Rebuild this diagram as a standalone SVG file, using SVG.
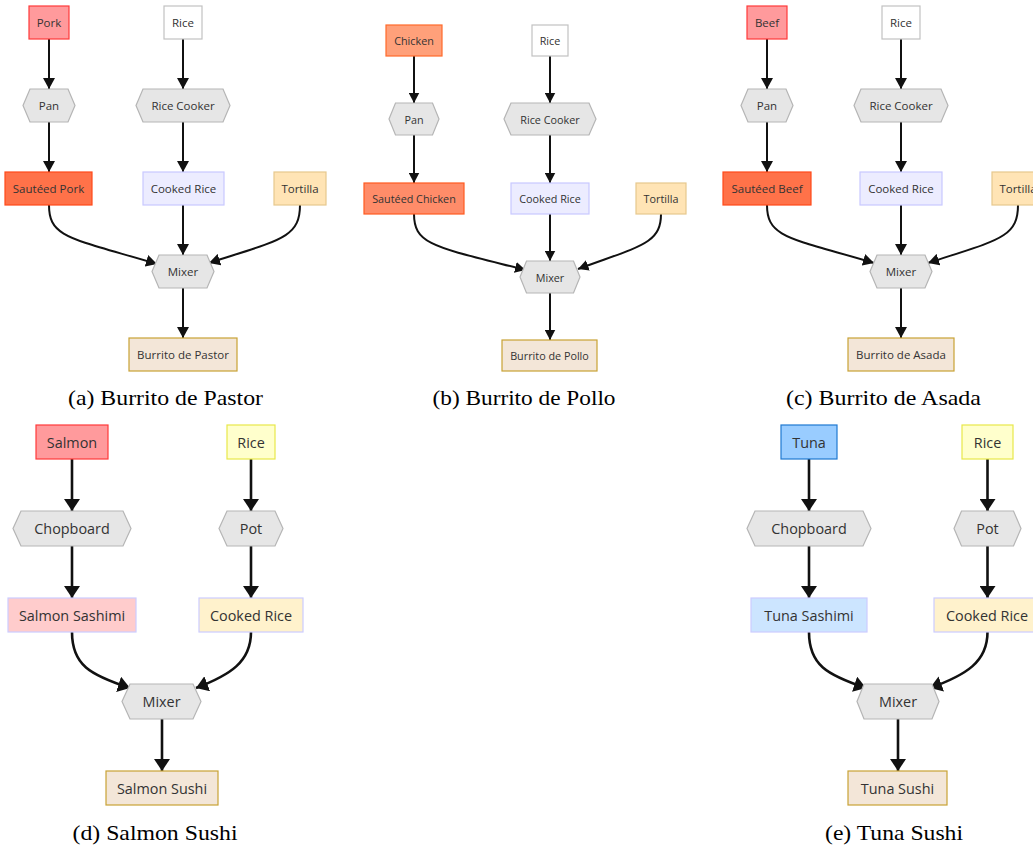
<svg xmlns="http://www.w3.org/2000/svg" width="1033" height="848" viewBox="0 0 1033 848">
<style>
text{font-family:"Open Sans","Noto Sans","DejaVu Sans",sans-serif;fill:#333;text-anchor:middle;dominant-baseline:central}
.sm text{font-size:11.5px}
.sb text{font-size:10.8px}
.lg text{font-size:14.4px}
text.cap{font-family:"Liberation Serif","Times New Roman",serif;font-size:21.5px;fill:#000;dominant-baseline:alphabetic}
.hex{fill:#e6e6e6;stroke:#b5b5b5;stroke-width:1.2}
.e{fill:none;stroke:#111;stroke-width:2}
.el{fill:none;stroke:#111;stroke-width:2.6}
.raw-red{fill:#ff9a9c;stroke:#ff3a3a;stroke-width:1.2}
.sauteed{fill:#ff7249;stroke:#ff4a1a;stroke-width:1.2}
.chicken{fill:#ffa07a;stroke:#ff6a2a;stroke-width:1.2}
.schicken{fill:#ff8c69;stroke:#ff5a20;stroke-width:1.2}
.white{fill:#fff;stroke:#c2c2c2;stroke-width:1.2}
.yellow{fill:#ffffcc;stroke:#e8e84a;stroke-width:1.2}
.crice{fill:#ececff;stroke:#c9c9ff;stroke-width:1.2}
.tort{fill:#ffe4b5;stroke:#e6c88e;stroke-width:1.2}
.final{fill:#f3e6d8;stroke:#c9a235;stroke-width:1.2}
.ssash{fill:#ffcccc;stroke:#ccccff;stroke-width:1.2}
.crice2{fill:#fff2cc;stroke:#ccccff;stroke-width:1.2}
.tuna{fill:#99ccff;stroke:#1f78d1;stroke-width:1.2}
.tsash{fill:#cce5ff;stroke:#ccccff;stroke-width:1.2}
</style>
<defs>
<marker id="ah" markerUnits="userSpaceOnUse" markerWidth="12" markerHeight="12" refX="11" refY="6" orient="auto"><path d="M0,0 L11,6 L0,12 z" fill="#111"/></marker>
<marker id="ahb" markerUnits="userSpaceOnUse" markerWidth="11" markerHeight="11" refX="10.5" refY="5.5" orient="auto"><path d="M0,0 L10.5,5.5 L0,11 z" fill="#111"/></marker>
<marker id="ahl" markerUnits="userSpaceOnUse" markerWidth="13" markerHeight="16" refX="12" refY="8" orient="auto"><path d="M0,0 L12,8 L0,16 z" fill="#111"/></marker>
</defs>

<!-- Panel A -->
<g id="panel-a" class="sm">
<g id="connectors-a">
<path class="e" d="M49,39 V89" marker-end="url(#ah)"/>
<path class="e" d="M183,39 V89" marker-end="url(#ah)"/>
<path class="e" d="M49,122 V172" marker-end="url(#ah)"/>
<path class="e" d="M183,122 V172" marker-end="url(#ah)"/>
<path class="e" d="M49,205 C49,238 70,238 157,264" marker-end="url(#ah)"/>
<path class="e" d="M183,205 V255" marker-end="url(#ah)"/>
<path class="e" d="M300,205 C300,238 280,240 209,263" marker-end="url(#ah)"/>
<path class="e" d="M183,288 V338" marker-end="url(#ah)"/>
</g>
<g id="a-pork"><rect class="raw-red" x="29" y="6" width="40" height="33"/><text x="49" y="22.5">Pork</text></g>
<g id="a-rice"><rect class="white" x="164" y="6" width="38" height="33"/><text x="183" y="22.5">Rice</text></g>
<g id="a-pan"><polygon class="hex" points="23,105.5 30,89 68,89 75,105.5 68,122 30,122"/><text x="49" y="105.5">Pan</text></g>
<g id="a-ricecooker"><polygon class="hex" points="136,105.5 143,89 223,89 230,105.5 223,122 143,122"/><text x="183" y="105.5">Rice Cooker</text></g>
<g id="a-sauteed-pork"><rect class="sauteed" x="5" y="172" width="87" height="33"/><text x="48.5" y="188.5">Sautéed Pork</text></g>
<g id="a-cooked-rice"><rect class="crice" x="143" y="172" width="81" height="33"/><text x="183.5" y="188.5">Cooked Rice</text></g>
<g id="a-tortilla"><rect class="tort" x="274" y="172" width="52" height="33"/><text x="300" y="188.5">Tortilla</text></g>
<g id="a-mixer"><polygon class="hex" points="152,271.5 159,255 207,255 214,271.5 207,288 159,288"/><text x="183" y="271.5">Mixer</text></g>
<g id="a-burrito"><rect class="final" x="129" y="338" width="108" height="33"/><text x="183" y="354.5">Burrito de Pastor</text></g>
</g>

<!-- Panel B -->
<g id="panel-b" class="sb">
<g id="connectors-b">
<path class="e" d="M414,56 V103" marker-end="url(#ahb)"/>
<path class="e" d="M550,56 V103" marker-end="url(#ahb)"/>
<path class="e" d="M414,135 V183" marker-end="url(#ahb)"/>
<path class="e" d="M550,135 V183" marker-end="url(#ahb)"/>
<path class="e" d="M414,214 C414,245 435,247 525.5,270" marker-end="url(#ahb)"/>
<path class="e" d="M550,214 V261" marker-end="url(#ahb)"/>
<path class="e" d="M661,214 C661,244 640,246 578,269" marker-end="url(#ahb)"/>
<path class="e" d="M550,293 V340" marker-end="url(#ahb)"/>
</g>
<g id="b-chicken"><rect class="chicken" x="386" y="25" width="56" height="31"/><text x="414" y="40.5">Chicken</text></g>
<g id="b-rice"><rect class="white" x="532" y="25" width="36" height="31"/><text x="550" y="40.5">Rice</text></g>
<g id="b-pan"><polygon class="hex" points="389,119 395.5,103 432.5,103 439,119 432.5,135 395.5,135"/><text x="414" y="119">Pan</text></g>
<g id="b-ricecooker"><polygon class="hex" points="504,119 511,103 589,103 596,119 589,135 511,135"/><text x="550" y="119">Rice Cooker</text></g>
<g id="b-sauteed-chicken"><rect class="schicken" x="364" y="183" width="100" height="31"/><text x="414" y="198.5">Sautéed Chicken</text></g>
<g id="b-cooked-rice"><rect class="crice" x="511" y="183" width="78" height="31"/><text x="550" y="198.5">Cooked Rice</text></g>
<g id="b-tortilla"><rect class="tort" x="636" y="183" width="50" height="31"/><text x="661" y="198.5">Tortilla</text></g>
<g id="b-mixer"><polygon class="hex" points="520,277 526.5,261 573.5,261 580,277 573.5,293 526.5,293"/><text x="550" y="277">Mixer</text></g>
<g id="b-burrito"><rect class="final" x="502" y="340" width="95" height="31"/><text x="549.5" y="355.5">Burrito de Pollo</text></g>
</g>

<!-- Panel C -->
<g id="panel-c" class="sm">
<g id="connectors-c">
<path class="e" d="M767,39 V89" marker-end="url(#ah)"/>
<path class="e" d="M901,39 V89" marker-end="url(#ah)"/>
<path class="e" d="M767,122 V172" marker-end="url(#ah)"/>
<path class="e" d="M901,122 V172" marker-end="url(#ah)"/>
<path class="e" d="M767,205 C767,238 790,238 874,263" marker-end="url(#ah)"/>
<path class="e" d="M901,205 V255" marker-end="url(#ah)"/>
<path class="e" d="M1018,205 C1018,238 998,240 928,263" marker-end="url(#ah)"/>
<path class="e" d="M901,288 V338" marker-end="url(#ah)"/>
</g>
<g id="c-beef"><rect class="raw-red" x="747" y="6" width="40" height="33"/><text x="767" y="22.5">Beef</text></g>
<g id="c-rice"><rect class="white" x="882" y="6" width="38" height="33"/><text x="901" y="22.5">Rice</text></g>
<g id="c-pan"><polygon class="hex" points="741,105.5 748,89 786,89 793,105.5 786,122 748,122"/><text x="767" y="105.5">Pan</text></g>
<g id="c-ricecooker"><polygon class="hex" points="854,105.5 861,89 941,89 948,105.5 941,122 861,122"/><text x="901" y="105.5">Rice Cooker</text></g>
<g id="c-sauteed-beef"><rect class="sauteed" x="723" y="172" width="88" height="33"/><text x="767" y="188.5">Sautéed Beef</text></g>
<g id="c-cooked-rice"><rect class="crice" x="860" y="172" width="82" height="33"/><text x="901" y="188.5">Cooked Rice</text></g>
<g id="c-tortilla"><rect class="tort" x="992" y="172" width="52" height="33"/><text x="1018" y="188.5">Tortilla</text></g>
<g id="c-mixer"><polygon class="hex" points="870,271.5 877,255 925,255 932,271.5 925,288 877,288"/><text x="901" y="271.5">Mixer</text></g>
<g id="c-burrito"><rect class="final" x="848" y="338" width="106" height="33"/><text x="901" y="354.5">Burrito de Asada</text></g>
</g>

<!-- Panel D -->
<g id="panel-d" class="lg">
<g id="connectors-d">
<path class="el" d="M72,459 V511" marker-end="url(#ahl)"/>
<path class="el" d="M251,459 V511" marker-end="url(#ahl)"/>
<path class="el" d="M72,546 V598" marker-end="url(#ahl)"/>
<path class="el" d="M251,546 V598" marker-end="url(#ahl)"/>
<path class="el" d="M72,632 C72,665 90,675 130,688" marker-end="url(#ahl)"/>
<path class="el" d="M251,632 C251,662 230,675 196,688" marker-end="url(#ahl)"/>
<path class="el" d="M162,719 V771" marker-end="url(#ahl)"/>
</g>
<g id="d-salmon"><rect class="raw-red" x="36" y="425" width="72" height="34"/><text x="72" y="442">Salmon</text></g>
<g id="d-rice"><rect class="yellow" x="227" y="425" width="48" height="34"/><text x="251" y="442">Rice</text></g>
<g id="d-chopboard"><polygon class="hex" points="13,528.5 21,511 123,511 131,528.5 123,546 21,546"/><text x="72" y="528.5">Chopboard</text></g>
<g id="d-pot"><polygon class="hex" points="219,528.5 227,511 275,511 283,528.5 275,546 227,546"/><text x="251" y="528.5">Pot</text></g>
<g id="d-salmon-sashimi"><rect class="ssash" x="8" y="598" width="128" height="34"/><text x="72" y="615">Salmon Sashimi</text></g>
<g id="d-cooked-rice"><rect class="crice2" x="199" y="598" width="104" height="34"/><text x="251" y="615">Cooked Rice</text></g>
<g id="d-mixer"><polygon class="hex" points="122,701.5 130,684 193,684 201,701.5 193,719 130,719"/><text x="161.5" y="701.5">Mixer</text></g>
<g id="d-salmon-sushi"><rect class="final" x="106" y="771" width="112" height="34"/><text x="162" y="788">Salmon Sushi</text></g>
</g>

<!-- Panel E -->
<g id="panel-e" class="lg">
<g id="connectors-e">
<path class="el" d="M809,459 V511" marker-end="url(#ahl)"/>
<path class="el" d="M987.5,459 V511" marker-end="url(#ahl)"/>
<path class="el" d="M809,546 V598" marker-end="url(#ahl)"/>
<path class="el" d="M987.5,546 V598" marker-end="url(#ahl)"/>
<path class="el" d="M809,632 C809,665 827,675 866,688" marker-end="url(#ahl)"/>
<path class="el" d="M987.5,632 C987.5,662 966,675 930,688" marker-end="url(#ahl)"/>
<path class="el" d="M898,719 V771" marker-end="url(#ahl)"/>
</g>
<g id="e-tuna"><rect class="tuna" x="781" y="425" width="56" height="34"/><text x="809" y="442">Tuna</text></g>
<g id="e-rice"><rect class="yellow" x="962" y="425" width="51" height="34"/><text x="987.5" y="442">Rice</text></g>
<g id="e-chopboard"><polygon class="hex" points="747,528.5 755,511 863,511 871,528.5 863,546 755,546"/><text x="809" y="528.5">Chopboard</text></g>
<g id="e-pot"><polygon class="hex" points="954,528.5 961.5,511 1013.5,511 1021,528.5 1013.5,546 961.5,546"/><text x="987.5" y="528.5">Pot</text></g>
<g id="e-tuna-sashimi"><rect class="tsash" x="751" y="598" width="116" height="34"/><text x="809" y="615">Tuna Sashimi</text></g>
<g id="e-cooked-rice"><rect class="crice2" x="934" y="598" width="106" height="34"/><text x="987" y="615">Cooked Rice</text></g>
<g id="e-mixer"><polygon class="hex" points="857,701.5 864,684 932,684 939,701.5 932,719 864,719"/><text x="898" y="701.5">Mixer</text></g>
<g id="e-tuna-sushi"><rect class="final" x="848" y="771" width="99" height="34"/><text x="897.5" y="788">Tuna Sushi</text></g>
</g>

<g id="captions">
<text class="cap" x="165.5" y="405" textLength="195" lengthAdjust="spacingAndGlyphs">(a) Burrito de Pastor</text>
<text class="cap" x="524" y="405" textLength="183" lengthAdjust="spacingAndGlyphs">(b) Burrito de Pollo</text>
<text class="cap" x="883.5" y="405" textLength="195" lengthAdjust="spacingAndGlyphs">(c) Burrito de Asada</text>
<text class="cap" x="155" y="840" textLength="165" lengthAdjust="spacingAndGlyphs">(d) Salmon Sushi</text>
<text class="cap" x="894" y="840" textLength="138" lengthAdjust="spacingAndGlyphs">(e) Tuna Sushi</text>
</g>
</svg>
